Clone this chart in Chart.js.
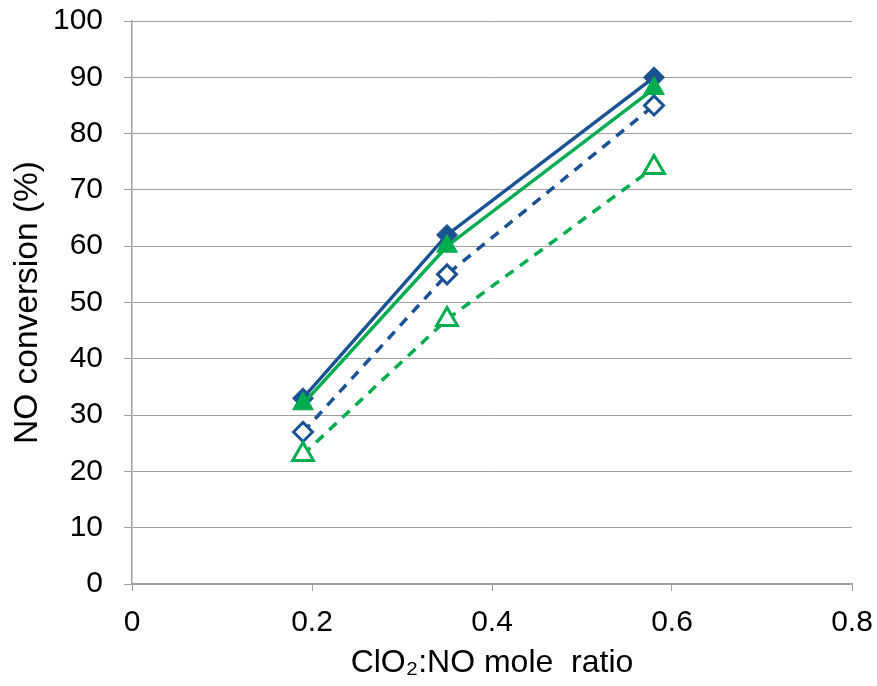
<!DOCTYPE html>
<html>
<head>
<meta charset="utf-8">
<script src="https://cdn.jsdelivr.net/npm/chart.js@4/dist/chart.umd.min.js"></script>
<style>
  html, body { margin: 0; padding: 0; background: #fff; }
  #wrap { width: 877px; height: 686px; }
</style>
</head>
<body>
<div id="wrap"><canvas id="conv-chart"></canvas></div>
<script>
    // mole ratio values on the x axis
    var ratios = [0.19, 0.35, 0.58];
    var solidBlue = [33, 62, 90];
    var solidGreen = [32, 60, 88];
    var dashedBlue = [27, 55, 85];
    var dashedGreen = [23, 47, 74];

    var blue = "#1A5294";
    var green = "#00AD4E";
    var fontFam = "Liberation Sans, Arial";

    function pts(vals) {
        return ratios.map(function (r, i) { return { x: r, y: vals[i] }; });
    }

    var ctx = document.getElementById("conv-chart").getContext("2d");

    var convChart = new Chart(ctx, {
        type: "scatter",
        data: {
            datasets: [
                {
                    label: "A",
                    data: pts(solidBlue),
                    showLine: true,
                    borderColor: blue,
                    backgroundColor: blue,
                    borderWidth: 3.5,
                    pointStyle: "rectRot",
                    pointRadius: 10.5,
                    pointBorderWidth: 1,
                    order: 1
                },
                {
                    label: "B",
                    data: pts(solidGreen),
                    showLine: true,
                    borderColor: green,
                    backgroundColor: green,
                    borderWidth: 3.5,
                    pointStyle: "triangle",
                    pointRadius: 12,
                    pointBorderWidth: 1,
                    order: 0
                },
                {
                    label: "C",
                    data: pts(dashedBlue),
                    showLine: true,
                    borderColor: blue,
                    backgroundColor: "#ffffff",
                    borderWidth: 3.5,
                    borderDash: [10, 8],
                    pointStyle: "rectRot",
                    pointRadius: 9.5,
                    pointBorderWidth: 3,
                    order: 3
                },
                {
                    label: "D",
                    data: pts(dashedGreen),
                    showLine: true,
                    borderColor: green,
                    backgroundColor: "#ffffff",
                    borderWidth: 3.5,
                    borderDash: [10, 8],
                    pointStyle: "triangle",
                    pointRadius: 12,
                    pointBorderWidth: 3,
                    order: 2
                }
            ]
        },
        options: {
            responsive: true,
            maintainAspectRatio: false,
            animation: false,
            layout: { autoPadding: false, padding: { top: 21, right: 25, left: 0, bottom: 0 } },
            plugins: { legend: { display: false }, tooltip: { enabled: false } },
            scales: {
                x: {
                    type: "linear",
                    min: 0,
                    max: 0.8,
                    ticks: {
                        stepSize: 0.2,
                        color: "#000",
                        padding: 14,
                        font: { family: fontFam, size: 30 }
                    },
                    grid: { drawOnChartArea: false, drawTicks: true, tickLength: 7, color: "#A0A0A0", lineWidth: 1 },
                    border: { color: "#A0A0A0", width: 1.5 },
                    title: {
                        display: true,
                        text: "ClO\u2082:NO mole  ratio",
                        color: "#000",
                        font: { family: fontFam, size: 32 },
                        padding: { top: 2, bottom: 4 }
                    },
                    afterFit: function (scale) {
                        scale.height = 102;
                        scale.paddingLeft = 0;
                        scale.paddingRight = 0;
                    }
                },
                y: {
                    min: 0,
                    max: 100,
                    ticks: {
                        stepSize: 10,
                        color: "#000",
                        padding: 21,
                        font: { family: fontFam, size: 30 }
                    },
                    grid: { drawOnChartArea: true, drawTicks: true, tickLength: 8, color: "#A0A0A0", lineWidth: 1 },
                    border: { color: "#A0A0A0", width: 1.5 },
                    title: {
                        display: true,
                        text: "NO conversion (%)",
                        color: "#000",
                        font: { family: fontFam, size: 33.5 },
                        padding: { top: 8, bottom: 0 }
                    },
                    afterFit: function (scale) {
                        scale.width = 132;
                        scale.paddingTop = 0;
                        scale.paddingBottom = 0;
                    }
                }
            }
        }
    });
</script>
</body>
</html>
